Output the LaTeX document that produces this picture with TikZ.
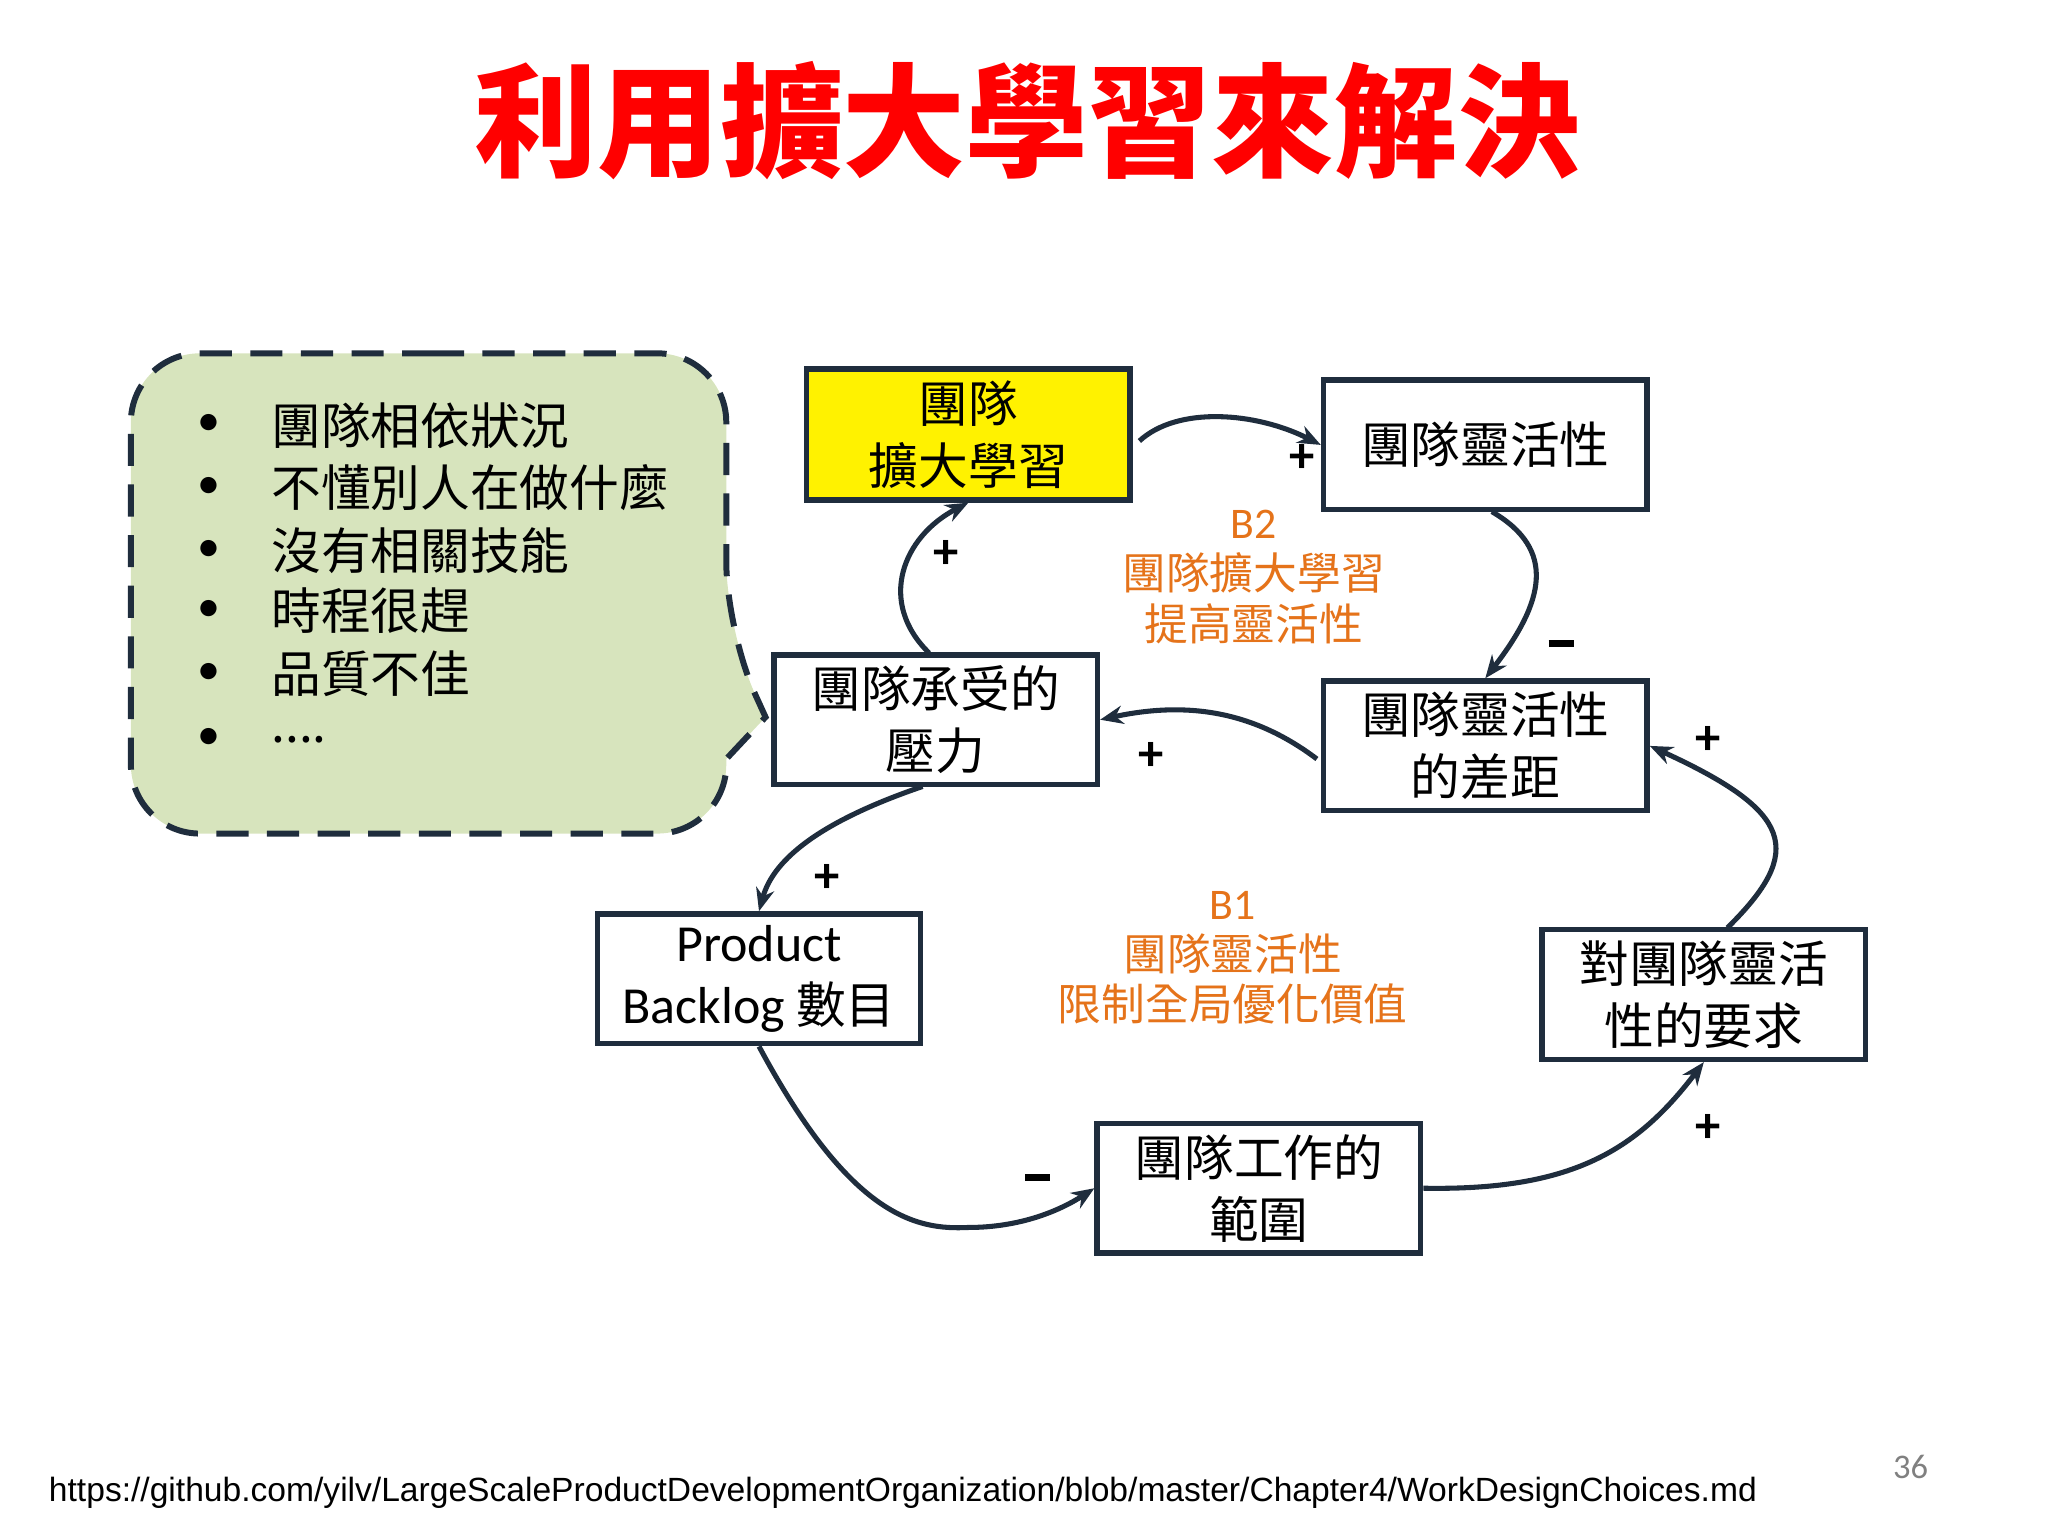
\documentclass[tikz,border=0pt]{standalone}
\usepackage{fontspec}
\setmainfont{Carlito}
\newfontfamily\cjk{Noto Sans CJK TC}
\newfontfamily\urlf{Liberation Sans}
\usetikzlibrary{arrows.meta}
\definecolor{navy}{HTML}{1F2D3D}
\definecolor{org}{HTML}{E5731A}
\definecolor{bub}{HTML}{D7E4BD}
\tikzset{
 box/.style={draw=navy,line width=1.2pt,minimum width=2.47cm,minimum height=0.99cm,inner sep=1pt,align=center,font=\fontsize{10.8}{13.5}\selectfont\cjk},
 arr/.style={draw=navy,line width=1.1pt,-{Stealth[length=5pt,width=4pt]}},
 sgn/.style={font=\fontsize{11}{12}\selectfont\bfseries},
 lab/.style={text=org,font=\fontsize{9.5}{11}\selectfont\cjk,align=center},
 bl/.style={anchor=west,font=\fontsize{10.8}{12}\selectfont\cjk}
}
\newcommand{\mns}{\rule[0.25ex]{0.5em}{1.6pt}}
\begin{document}
\begin{tikzpicture}[x=0.01cm,y=-0.01cm]
\useasboundingbox (0,0) rectangle (1565,1174);
\node (title) at (785,92) {\fontsize{26.7}{30}\selectfont\cjk\bfseries\color{red}利用擴大學習來解決};
% bubble
\draw[fill=bub,draw=navy,line width=1.3pt,dash pattern=on 7pt off 4pt]
 (330,270) [rounded corners=15pt] -- (555,270) -- (555,482) [sharp corners] -- (585,548) -- (555,580) [rounded corners=15pt] -- (555,637) -- (100,637) -- (100,270) [sharp corners] -- (330,270);
\foreach \y/\t [count=\i] in {325/{團隊相依狀況},373/{不懂別人在做什麼},421/{沒有相關技能},467/{時程很趕},515/{品質不佳},565/{{.}{.}{.}{.}}}{
 \node (d\i) at (160,\y) {\textbullet};
 \node[bl] (t\i) at (195,\y) {\t};
}
\node[box,fill=yellow,minimum height=1cm] (A) at (740,332) {團隊\\擴大學習};
\node[box] (B) at (1135,340) {團隊靈活性};
\node[box] (C) at (1135,570) {團隊靈活性\\的差距};
\node[box] (D) at (715,550) {團隊承受的\\壓力};
\node[box] (E) at (580,748) {{\fontsize{11.3}{13}\selectfont\rmfamily Product}\\{\rmfamily\fontsize{11.3}{13}\selectfont Backlog} 數目};
\node[box] (F) at (962,908) {團隊工作的\\範圍};
\node[box] (G) at (1302,760) {對團隊靈活\\性的要求};
\draw[arr] (A.east) ++(5,5) coordinate (a1) (a1) .. controls (900,310) and (960,315) .. (B.west);
\draw[arr] (1140,391) .. controls (1190,420) and (1180,460) .. (C.north);
\draw[arr] (C.west) ++(-3,10) coordinate (c1) (c1) .. controls (960,545) and (910,535) .. (D.east);
\draw[arr] (710,499) .. controls (670,460) and (690,410) .. (A.south);
\draw[arr] (705,601) .. controls (620,630) and (590,660) .. (E.north);
\draw[arr] (E.south) .. controls (650,930) and (700,940) .. (740,938) .. controls (780,938) and (810,925) .. (F.west);
\draw[arr] (F.east) .. controls (1200,910) and (1250,880) .. (G.south);
\draw[arr] (1320,709) .. controls (1380,650) and (1370,620) .. (C.east);
\node[sgn] (s1) at (995,350) {+};
\node[sgn] (s2) at (1193,494) {\mns};
\node[sgn] (s3) at (880,578) {+};
\node[sgn] (s4) at (723,424) {+};
\node[sgn] (s5) at (632,671) {+};
\node[sgn] (s6) at (793,902) {\mns};
\node[sgn] (s7) at (1305,862) {+};
\node[sgn] (s8) at (1305,566) {+};
\node[lab] (b2) at (958,441) {{\rmfamily B2}\\團隊擴大學習\\提高靈活性};
\node[lab] (b1) at (942,732) {{\rmfamily B1}\\團隊靈活性\\限制全局優化價值};
\node[anchor=west,font=\urlf\fontsize{7.3}{9}\selectfont] (url) at (25,1141) {https://github.com/yilv/LargeScaleProductDevelopmentOrganization/blob/master/Chapter4/WorkDesignChoices.md};
\node[text=gray,font=\fontsize{7.5}{9}\selectfont] (pg) at (1460,1121) {36};
\end{tikzpicture}
\end{document}
